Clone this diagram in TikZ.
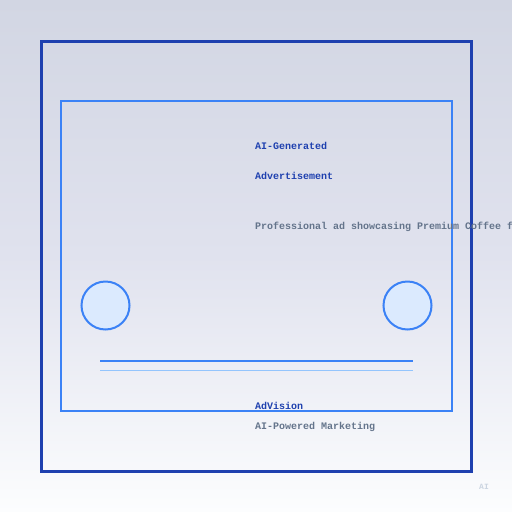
\documentclass[tikz,border=0pt]{standalone}
\usepackage{fontspec}
\setmonofont{Liberation Mono}
\begin{document}
\begin{tikzpicture}[x=1pt,y=-1pt,
  outerbox/.style={draw=darkblue,line width=3pt},
  innerbox/.style={draw=midblue,line width=2pt},
  dot/.style={circle,draw=midblue,fill=paleblue,line width=2pt,minimum size=48pt,inner sep=0pt},
  title/.style={anchor=base west,inner sep=0pt,font=\ttfamily\bfseries\fontsize{10}{12}\selectfont,text=darkblue},
  sub/.style={anchor=base west,inner sep=0pt,font=\ttfamily\bfseries\fontsize{10}{12}\selectfont,text=slate}]
\definecolor{darkblue}{HTML}{1E40AF}
\definecolor{midblue}{HTML}{3B82F6}
\definecolor{lightblue}{HTML}{93C5FD}
\definecolor{paleblue}{HTML}{DBEAFE}
\definecolor{slate}{HTML}{64748B}
\definecolor{faint}{HTML}{CBD5E1}
\definecolor{bgtop}{HTML}{D2D6E3}
\definecolor{bgmid}{HTML}{E0E2EE}
\definecolor{bgbot}{HTML}{FCFDFE}
\useasboundingbox (0,0) rectangle (512,512);
\shade[top color=bgtop,bottom color=bgbot,middle color=bgmid] (0,0) rectangle (512,512);
\draw[outerbox] (41,41) rectangle (471,471);
\draw[innerbox] (61,101) rectangle (452,411);
\node[dot] (c1) at (105.5,305.5) {};
\node[dot] (c2) at (407.5,305.5) {};
\coordinate (l1a) at (100,360.5);
\coordinate (l1b) at (413,360.5);
\coordinate (l2a) at (100,370);
\coordinate (l2b) at (413,370);
\draw[midblue,line width=2pt] (l1a) -- (l1b);
\draw[lightblue,line width=1pt] (l2a) -- (l2b);
\node[title] (t1) at (255,149) {AI-Generated};
\node[title] (t2) at (255,179) {Advertisement};
\node[sub] (t3) at (255,229) {Professional ad showcasing Premium Coffee f};
\node[title] (t4) at (255,409) {AdVision};
\node[sub] (t5) at (255,429) {AI-Powered Marketing};
\node[anchor=base west,inner sep=0pt,font=\ttfamily\bfseries\fontsize{8}{10}\selectfont,text=faint] (ai) at (479,489) {AI};
\end{tikzpicture}
\end{document}
